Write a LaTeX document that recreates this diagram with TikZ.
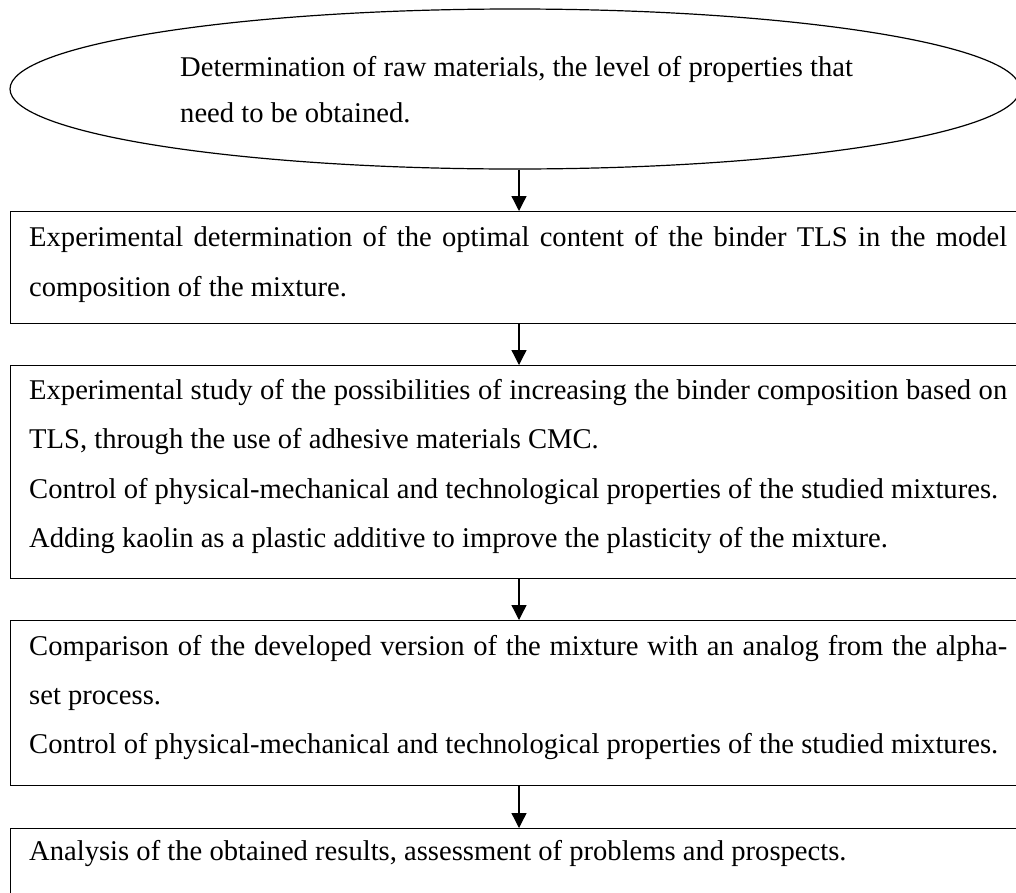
\documentclass[tikz,border=0pt]{standalone}
\usepackage{fontspec}
\setmainfont{Liberation Serif}
\usetikzlibrary{arrows.meta,shapes.geometric}
\begin{document}
\begin{tikzpicture}[x=1pt,y=-1pt,
  boxnode/.style={draw, line width=1.3pt, rectangle, anchor=north west, inner sep=0pt, minimum width=1012pt},
  txt/.style={anchor=base west, inner sep=0pt, font=\fontsize{28.6}{50}\selectfont},
  flow/.style={-{Triangle[width=15pt,length=15pt]}, line width=1.3pt}]
\useasboundingbox (0,0) rectangle (1016,892);
\clip (0,0) rectangle (1016,892);
\coordinate (ax) at (519,0);
% ellipse
\node[draw, ellipse, line width=1.2pt, minimum width=1010pt, minimum height=160pt, inner sep=0pt] (e) at (515,89) {};
\node[txt] (e1) at (180,76) {Determination of raw materials, the level of properties that};
\node[txt] (e2) at (180,122) {need to be obtained.};
% box 1
\node[boxnode, minimum height=112pt] (b1) at (10,211) {};
\node[txt] (t11) at (29,246) {\makebox[978pt][s]{Experimental determination of the optimal content of the binder TLS in the model}};
\node[txt] (t12) at (29,296) {composition of the mixture.};
% box 2
\node[boxnode, minimum height=213pt] (b2) at (10,365) {};
\node[txt] (t21) at (29,399) {\makebox[978pt][s]{Experimental study of the possibilities of increasing the binder composition based on}};
\node[txt] (t22) at (29,448) {TLS, through the use of adhesive materials CMC.};
\node[txt] (t23) at (29,498) {Control of physical-mechanical and technological properties of the studied mixtures.};
\node[txt] (t24) at (29,547) {Adding kaolin as a plastic additive to improve the plasticity of the mixture.};
% box 3
\node[boxnode, minimum height=165pt] (b3) at (10,620) {};
\node[txt] (t31) at (29,655) {\makebox[978pt][s]{Comparison of the developed version of the mixture with an analog from the alpha-}};
\node[txt] (t32) at (29,704) {set process.};
\node[txt] (t33) at (29,753) {Control of physical-mechanical and technological properties of the studied mixtures.};
% box 4
\node[boxnode, minimum height=110pt] (b4) at (10,828) {};
\node[txt] (t41) at (29,860) {Analysis of the obtained results, assessment of problems and prospects.};
% arrows
\draw[flow] (e.south -| ax) -- (b1.north -| ax);
\draw[flow] (b1.south -| ax) -- (b2.north -| ax);
\draw[flow] (b2.south -| ax) -- (b3.north -| ax);
\draw[flow] (b3.south -| ax) -- (b4.north -| ax);
\end{tikzpicture}
\end{document}
